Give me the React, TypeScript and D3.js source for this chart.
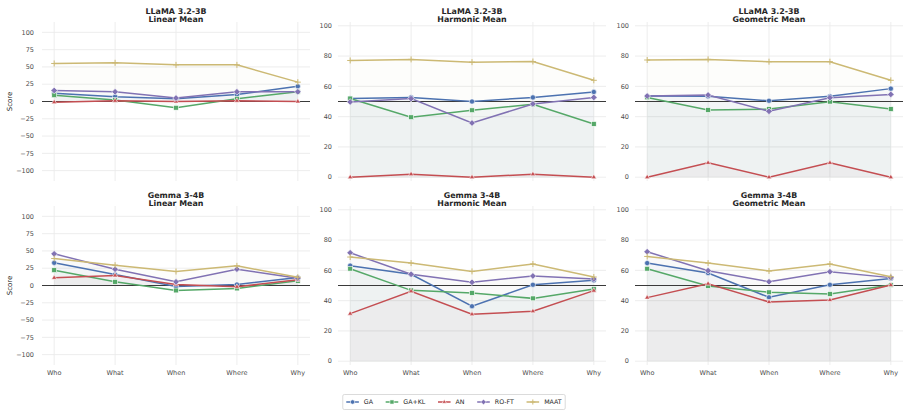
import * as d3 from 'd3';
import { useEffect, useRef } from 'react';

const categories = ['Who', 'What', 'When', 'Where', 'Why'];
const methods = ['GA', 'GA+KL', 'AN', 'RO-FT', 'MAAT'];
const colors = ['#4C72B0', '#55A868', '#C44E52', '#8172B3', '#CCB974'];
const markers = ['circle', 'square', 'triangle', 'diamond', 'plus'];

// rows follow methods: GA, GA+KL, AN, RO-FT, MAAT
const llamaLinear = [
  [12, 7, 4, 10, 22],
  [9, 2, -9, 4, 14],
  [-1, 1, 0, 1, 0],
  [16, 14, 5, 14, 14],
  [55, 56, 53, 53, 28],
];
const llamaHarmonic = [
  [52, 52.7, 50, 52.7, 56.3],
  [52, 39.6, 44.2, 48.1, 35.2],
  [0, 2, 0, 2, 0],
  [49.7, 51.9, 35.8, 48.4, 52.7],
  [77.1, 77.8, 76, 76.4, 64],
];
const llamaGeometric = [
  [53.6, 53.4, 50.5, 53.4, 58.5],
  [52.7, 44.4, 45, 49.9, 45],
  [0, 9.5, 0, 9.5, 0],
  [53.6, 54.3, 43.5, 52.5, 54.7],
  [77.4, 77.8, 76.3, 76.3, 64],
];
const gemmaLinear = [
  [32.8, 15.9, -1.4, 1.4, 11.6],
  [22.2, 5.3, -7.2, -4.3, 6.7],
  [11.1, 14.5, 1.4, -1.9, 8.2],
  [45.8, 23.6, 5.3, 23.6, 10.6],
  [39, 29.4, 20.2, 28.4, 12],
];
const gemmaHarmonic = [
  [63.1, 57.4, 36.3, 50.5, 53.4],
  [61.1, 46.8, 45.1, 41.5, 47.7],
  [31.4, 46.2, 31, 33, 46.6],
  [71.6, 57.4, 52.1, 56.3, 54.3],
  [68.8, 64.8, 59.3, 64.2, 55.6],
];
const gemmaGeometric = [
  [64.8, 58.2, 42.2, 50.5, 54.7],
  [61.1, 49.7, 45.5, 44.4, 50.3],
  [42, 51.2, 39.1, 40.4, 50.3],
  [72.3, 59.8, 52.5, 59.1, 55.2],
  [69.2, 64.8, 59.6, 64.2, 55.8],
];

const linearTicks = [-100, -75, -50, -25, 0, 25, 50, 75, 100];
const meanTicks = [0, 20, 40, 60, 80, 100];

const panels = [
  { model: 'LLaMA 3.2-3B', mean: 'Linear Mean', data: llamaLinear, linear: true },
  { model: 'LLaMA 3.2-3B', mean: 'Harmonic Mean', data: llamaHarmonic, linear: false },
  { model: 'LLaMA 3.2-3B', mean: 'Geometric Mean', data: llamaGeometric, linear: false },
  { model: 'Gemma 3-4B', mean: 'Linear Mean', data: gemmaLinear, linear: true },
  { model: 'Gemma 3-4B', mean: 'Harmonic Mean', data: gemmaHarmonic, linear: false },
  { model: 'Gemma 3-4B', mean: 'Geometric Mean', data: gemmaGeometric, linear: false },
];

const FONT = 'DejaVu Sans, sans-serif';

function drawMarker(g: any, kind: string, cx: number, cy: number, color: string, s = 1) {
  if (kind === 'circle') {
    g.append('circle').attr('cx', cx).attr('cy', cy).attr('r', 2.6 * s)
      .attr('fill', color).attr('stroke', '#fff').attr('stroke-width', 0.6);
  } else if (kind === 'square') {
    const h = 2.4 * s;
    g.append('rect').attr('x', cx - h).attr('y', cy - h).attr('width', 2 * h).attr('height', 2 * h)
      .attr('fill', color).attr('stroke', '#fff').attr('stroke-width', 0.6);
  } else if (kind === 'triangle') {
    const r = 3 * s;
    g.append('path')
      .attr('d', `M${cx},${cy - r}L${cx + r * 0.87},${cy + r * 0.5}L${cx - r * 0.87},${cy + r * 0.5}Z`)
      .attr('fill', color).attr('stroke', '#fff').attr('stroke-width', 0.6);
  } else if (kind === 'diamond') {
    const r = 3.3 * s;
    g.append('path')
      .attr('d', `M${cx},${cy - r}L${cx + r},${cy}L${cx},${cy + r}L${cx - r},${cy}Z`)
      .attr('fill', color).attr('stroke', '#fff').attr('stroke-width', 0.6);
  } else {
    const r = 3 * s;
    g.append('path')
      .attr('d', `M${cx - r},${cy}H${cx + r}M${cx},${cy - r}V${cy + r}`)
      .attr('stroke', color).attr('stroke-width', 1).attr('fill', 'none');
  }
}

export default function App() {
  const ref = useRef<SVGSVGElement>(null);

  useEffect(() => {
    const svg = d3.select(ref.current);
    svg.selectAll('*').remove();

    const width = 910;
    const height = 416;
    svg.attr('width', width).attr('height', height).attr('viewBox', `0 0 ${width} ${height}`);

    const colLeft = [42, 338, 635];
    const rowTop = [22, 206];
    const plotW = 268;
    const plotH = 159;

    const x = d3.scaleLinear().domain([-0.2, 4.2]).range([0, plotW]);

    panels.forEach((p, idx) => {
      const row = Math.floor(idx / 3);
      const col = idx % 3;
      const g = svg.append('g').attr('transform', `translate(${colLeft[col]},${rowTop[row]})`);

      const y = d3.scaleLinear()
        .domain(p.linear ? [-115, 115] : [-2.5, 102.5])
        .range([plotH, 0]);
      const ticks = p.linear ? linearTicks : meanTicks;
      const fmt = d3.format('d');

      // grid
      g.selectAll('.hgrid').data(ticks).enter().append('line')
        .attr('x1', 0).attr('x2', plotW)
        .attr('y1', (d) => y(d)).attr('y2', (d) => y(d))
        .attr('stroke', '#ebebeb').attr('stroke-width', 0.9);
      g.selectAll('.vgrid').data(categories).enter().append('line')
        .attr('x1', (_, i) => x(i)).attr('x2', (_, i) => x(i))
        .attr('y1', 0).attr('y2', plotH)
        .attr('stroke', '#ebebeb').attr('stroke-width', 0.9);

      // y tick labels
      g.selectAll('.ytick').data(ticks).enter().append('text')
        .attr('x', col === 0 ? -8 : -6).attr('y', (d) => y(d))
        .attr('dy', '0.35em')
        .attr('text-anchor', 'end')
        .attr('font-family', FONT).attr('font-size', 6.5).attr('fill', '#4d4d4d')
        .text((d) => fmt(d));

      // x tick labels (bottom row only)
      if (row === 1) {
        g.selectAll('.xtick').data(categories).enter().append('text')
          .attr('x', (_, i) => x(i)).attr('y', plotH + 9.5)
          .attr('text-anchor', 'middle')
          .attr('font-family', FONT).attr('font-size', 6.5).attr('fill', '#4d4d4d')
          .text((d) => d);
      }

      // title
      const title = g.append('text')
        .attr('x', plotW / 2).attr('text-anchor', 'middle')
        .attr('font-family', FONT).attr('font-size', 7.9).attr('font-weight', 'bold')
        .attr('fill', '#262626');
      title.append('tspan').attr('x', plotW / 2).attr('y', -8.5).text(p.model);
      title.append('tspan').attr('x', plotW / 2).attr('y', -0.5).text(p.mean);

      if (col === 0) {
        g.append('text')
          .attr('transform', `translate(${-32},${plotH / 2}) rotate(-90)`)
          .attr('text-anchor', 'middle').attr('dy', '0.35em')
          .attr('font-family', FONT).attr('font-size', 7).attr('fill', '#262626')
          .text('Score');
      }

      // fills
      const area = d3.area<number>()
        .x((_, i) => x(i))
        .y0(y(0))
        .y1((d) => y(d));
      p.data.forEach((series, si) => {
        g.append('path').attr('d', area(series) as string)
          .attr('fill', colors[si]).attr('fill-opacity', 0.033);
      });

      // reference line
      const ref0 = p.linear ? 0 : 50;
      g.append('line')
        .attr('x1', 0).attr('x2', plotW)
        .attr('y1', y(ref0)).attr('y2', y(ref0))
        .attr('stroke', '#3a3a3a').attr('stroke-width', 1.2);

      // lines + markers
      const line = d3.line<number>().x((_, i) => x(i)).y((d) => y(d));
      p.data.forEach((series, si) => {
        const sg = g.append('g');
        sg.append('path').attr('d', line(series) as string)
          .attr('fill', 'none').attr('stroke', colors[si]).attr('stroke-width', 1.5);
        series.forEach((v, i) => drawMarker(sg, markers[si], x(i), y(v), colors[si]));
      });
    });

    // legend
    const legend = svg.append('g');
    const fs = 6.3;
    const handle = 12.6;
    const pad = 5;
    const colSpace = 12.6;
    const items = legend.append('g');
    let cursor = 0;
    const ly = 402;
    methods.forEach((m, i) => {
      const it = items.append('g').attr('transform', `translate(${cursor},0)`);
      it.append('line').attr('x1', 0).attr('x2', handle).attr('y1', ly).attr('y2', ly)
        .attr('stroke', colors[i]).attr('stroke-width', 1.5);
      drawMarker(it, markers[i], handle / 2, ly, colors[i], 0.85);
      const t = it.append('text').attr('x', handle + pad).attr('y', ly).attr('dy', '0.35em')
        .attr('font-family', FONT).attr('font-size', fs).attr('fill', '#262626').text(m);
      const w = (t.node() as SVGTextElement).getComputedTextLength();
      cursor += handle + pad + w + colSpace;
    });
    const total = cursor - colSpace;
    const left = 454 - total / 2;
    items.attr('transform', `translate(${left},0)`);
    legend.insert('rect', ':first-child')
      .attr('x', left - 3.5).attr('y', ly - 7.5)
      .attr('width', total + 7).attr('height', 15)
      .attr('rx', 1.5)
      .attr('fill', '#fff').attr('stroke', '#cccccc').attr('stroke-width', 0.7);
  }, []);

  return (
    <svg
      ref={ref}
      style={{ position: 'absolute', left: 0, top: 0, display: 'block', background: '#fff' }}
    />
  );
}
